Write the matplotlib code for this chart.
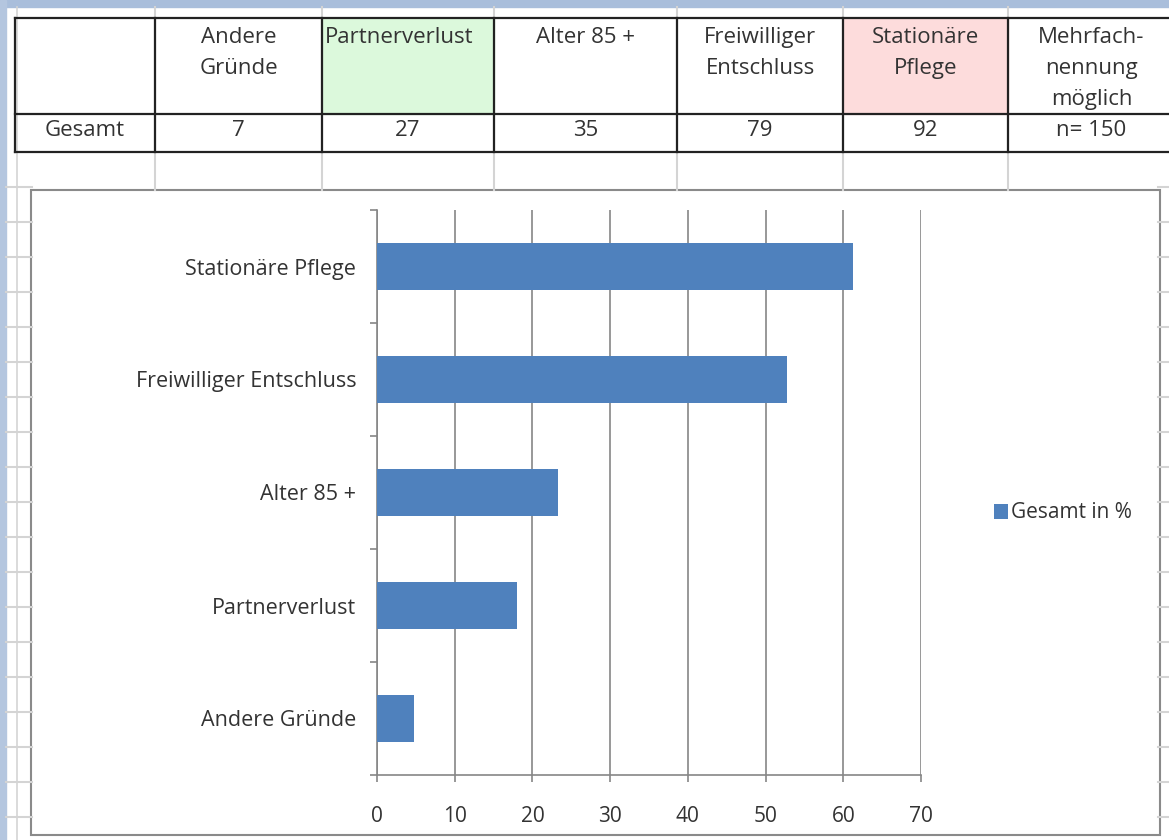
import matplotlib.pyplot as plt
from matplotlib.patches import Rectangle

plt.rcParams['font.family'] = ['Open Sans', 'DejaVu Sans']

# table data
header = ["Andere\nGründe", "Partnerverlust", "Alter 85 +", "Freiwilliger\nEntschluss",
          "Stationäre\nPflege", "Mehrfach-\nnennung\nmöglich"]
row_label = "Gesamt"
counts = ["7", "27", "35", "79", "92", "n= 150"]

# chart data (Gesamt in %)
categories = ["Andere Gründe", "Partnerverlust", "Alter 85 +", "Freiwilliger Entschluss", "Stationäre Pflege"]
percent = [4.7, 18.0, 23.3, 52.7, 61.3]

fig = plt.figure(figsize=(11.69, 8.40), dpi=100)

# background spreadsheet layer in pixel coords
bg = fig.add_axes([0, 0, 1, 1])
bg.set_xlim(0, 1169)
bg.set_ylim(840, 0)
bg.axis("off")
bg.add_patch(Rectangle((0, 0), 1169, 840, color="white"))
bg.add_patch(Rectangle((0, 0), 1169, 7, color="#a9bedb"))
bg.add_patch(Rectangle((0, 0), 6, 840, color="#b4c6df"))

cols = [15, 155, 322, 494, 677, 843, 1008, 1175]
light = "#d4d4d4"
for x in cols[1:-1]:
    bg.plot([x, x], [7, 190], color=light, lw=1.5)
bg.plot([17, 17], [7, 840], color=light, lw=1.2)
for y in range(187, 840, 35):
    bg.plot([6, 32], [y, y], color=light, lw=1.5)
    bg.plot([1158, 1169], [y, y], color=light, lw=1.5)

# highlighted header cells
bg.add_patch(Rectangle((cols[2], 18), cols[3] - cols[2], 96, color="#dcf9dc"))
bg.add_patch(Rectangle((cols[5], 18), cols[6] - cols[5], 96, color="#fddcdc"))

# table borders
for y in [18, 114, 152]:
    bg.plot([15, 1169], [y, y], color="#222222", lw=1.6)
for x in cols[:-1]:
    bg.plot([x, x], [18, 152], color="#222222", lw=1.6)

tfont = dict(fontsize=16, color="#333333")
for i, h in enumerate(header):
    cx = (cols[i + 1] + cols[i + 2]) / 2
    if h == "Partnerverlust":
        bg.text(cols[2] + 3, 27, h, ha="left", va="top", linespacing=1.62, **tfont)
    else:
        bg.text(cx, 27, h, ha="center", va="top", linespacing=1.62, **tfont)
    bg.text(cx, 131, counts[i], ha="center", va="center", **tfont)
bg.text(85, 131, row_label, ha="center", va="center", **tfont)

# chart box
bg.add_patch(Rectangle((31, 190), 1129, 645, facecolor="white", edgecolor="#8a8a8a", lw=1.5))

ax = fig.add_axes([377 / 1169, 65 / 840, 544 / 1169, 565 / 840])
ax.barh(range(len(categories)), percent, height=0.42, color="#4f81bd", zorder=3, label="Gesamt in %")
ax.set_xlim(0, 70)
ax.set_ylim(-0.5, len(categories) - 0.5)
ax.set_xticks(range(0, 71, 10))
ax.set_yticks(range(len(categories)))
ax.set_yticklabels(categories)
ax.set_yticks([i - 0.5 for i in range(len(categories) + 1)], minor=True)
ax.tick_params(axis="y", which="major", length=0, pad=15, labelsize=15.5, labelcolor="#333333")
ax.tick_params(axis="y", which="minor", length=5, color="#868686", width=1.2)
ax.tick_params(axis="x", length=5, color="#868686", width=1.2, pad=17, labelsize=15, labelcolor="#333333")
ax.grid(axis="x", color="#868686", lw=1.2, zorder=0)
ax.spines["top"].set_visible(False)
ax.spines["right"].set_visible(False)
for s in ["left", "bottom"]:
    ax.spines[s].set_color("#868686")
    ax.spines[s].set_linewidth(1.2)
ax.set_facecolor("none")

fig.legend(loc="center left", bbox_to_anchor=(975 / 1169, 1 - 513 / 840), frameon=False,
           fontsize=15, handlelength=0.7, handleheight=0.7, handletextpad=0.15, labelcolor="#333333")

fig.savefig("out.png", dpi=100)
